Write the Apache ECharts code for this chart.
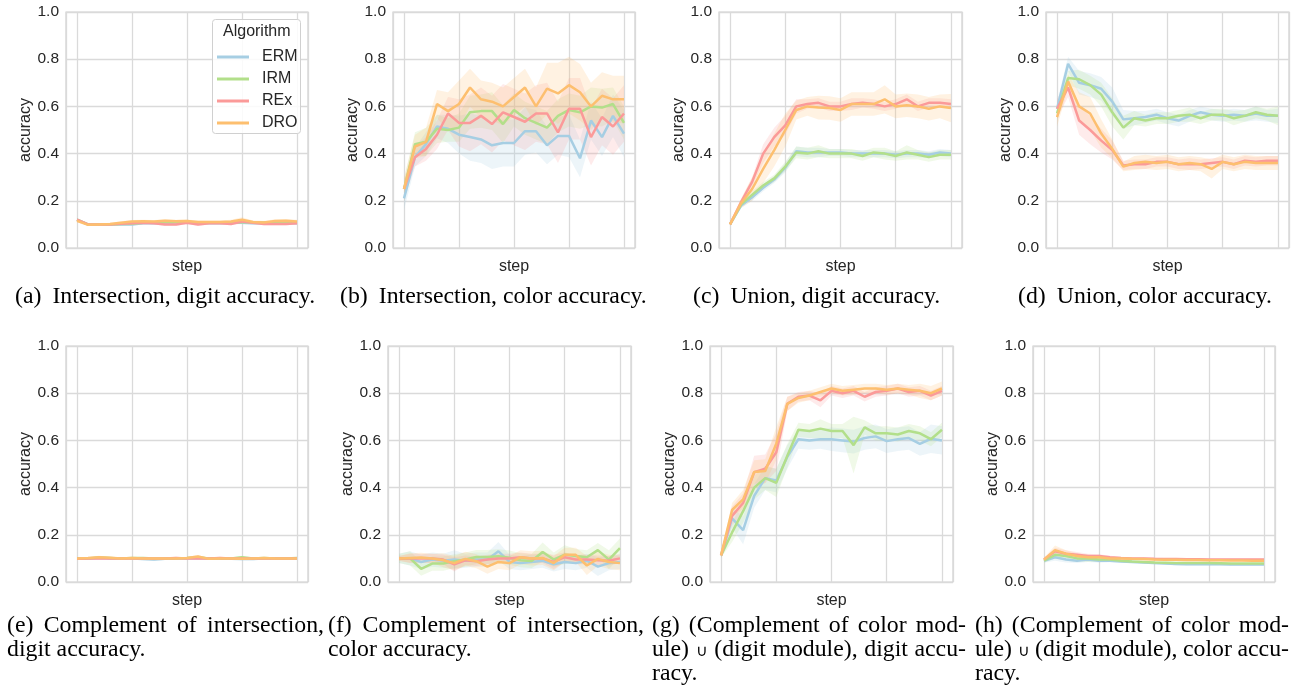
<!DOCTYPE html>
<html>
<head>
<meta charset="utf-8">
<script src="https://cdn.jsdelivr.net/npm/echarts@6/dist/echarts.min.js"></script>
<style>
  html, body { margin: 0; padding: 0; background: #fff; }
  #chart { width: 1295px; height: 689px; }
</style>
</head>
<body>
<div id="chart"></div>
<script>
const algorithms = ['ERM', 'IRM', 'REx', 'DRO'];
const colors = ['#a6cee3', '#b2df8a', '#fb9a99', '#fdbf6f'];
const steps = [0, 1, 2, 3, 4, 5, 6, 7, 8, 9, 10, 11, 12, 13, 14, 15, 16, 17, 18, 19, 20];
const yTicks = [0, 0.2, 0.4, 0.6, 0.8, 1.0];

// (a) intersection, digit accuracy
const aERM = [0.12,0.10,0.10,0.10,0.10,0.10,0.105,0.105,0.105,0.108,0.108,0.105,0.105,0.105,0.107,0.107,0.105,0.105,0.107,0.107,0.105];
const aIRM = [0.12,0.10,0.10,0.10,0.102,0.103,0.107,0.107,0.11,0.11,0.108,0.107,0.107,0.108,0.108,0.11,0.108,0.108,0.11,0.11,0.108];
const aREx = [0.12,0.10,0.10,0.10,0.103,0.105,0.107,0.105,0.10,0.10,0.107,0.10,0.105,0.105,0.102,0.112,0.107,0.102,0.102,0.102,0.105];
const aDRO = [0.115,0.098,0.10,0.102,0.107,0.112,0.113,0.112,0.115,0.113,0.114,0.11,0.11,0.11,0.112,0.12,0.11,0.108,0.114,0.115,0.112];
const aERMci = [0.006,0.004,0.004,0.004,0.005,0.005,0.005,0.005,0.005,0.005,0.005,0.005,0.005,0.005,0.005,0.006,0.005,0.005,0.005,0.005,0.005];
const aIRMci = [0.006,0.004,0.004,0.004,0.005,0.005,0.005,0.005,0.005,0.005,0.005,0.005,0.005,0.005,0.005,0.006,0.005,0.005,0.005,0.005,0.005];
const aRExci = [0.006,0.004,0.004,0.004,0.005,0.006,0.006,0.006,0.006,0.006,0.006,0.006,0.006,0.006,0.006,0.008,0.006,0.006,0.006,0.006,0.006];
const aDROci = [0.006,0.004,0.004,0.005,0.006,0.007,0.007,0.007,0.007,0.007,0.007,0.007,0.007,0.007,0.008,0.01,0.007,0.007,0.008,0.008,0.008];

// (b) intersection, color accuracy
const bERM = [0.21,0.385,0.44,0.515,0.505,0.48,0.47,0.46,0.435,0.445,0.445,0.495,0.495,0.435,0.475,0.475,0.38,0.54,0.47,0.56,0.485];
const bIRM = [0.25,0.44,0.45,0.505,0.50,0.51,0.575,0.58,0.58,0.525,0.585,0.55,0.53,0.51,0.56,0.585,0.575,0.60,0.595,0.61,0.53];
const bREx = [0.25,0.385,0.42,0.48,0.57,0.53,0.53,0.56,0.525,0.575,0.555,0.535,0.57,0.57,0.49,0.59,0.59,0.47,0.555,0.515,0.57];
const bDRO = [0.25,0.43,0.45,0.61,0.58,0.61,0.68,0.63,0.62,0.60,0.64,0.68,0.60,0.675,0.655,0.69,0.66,0.60,0.645,0.63,0.63];
const bERMci = [0.05,0.04,0.05,0.05,0.06,0.08,0.1,0.1,0.1,0.1,0.1,0.1,0.09,0.08,0.08,0.09,0.08,0.08,0.08,0.09,0.1];
const bIRMci = [0.04,0.05,0.06,0.06,0.05,0.06,0.07,0.07,0.08,0.08,0.07,0.07,0.07,0.07,0.07,0.07,0.07,0.08,0.08,0.07,0.07];
const bRExci = [0.04,0.04,0.05,0.06,0.07,0.1,0.12,0.12,0.12,0.12,0.12,0.12,0.12,0.13,0.13,0.13,0.13,0.12,0.12,0.12,0.12];
const bDROci = [0.05,0.05,0.06,0.06,0.08,0.1,0.08,0.08,0.08,0.08,0.08,0.08,0.08,0.11,0.13,0.12,0.12,0.1,0.1,0.1,0.1];

// (c) union, digit accuracy
const cERM = [0.10,0.18,0.215,0.255,0.29,0.34,0.41,0.405,0.405,0.405,0.405,0.40,0.40,0.40,0.40,0.395,0.40,0.40,0.395,0.405,0.40];
const cIRM = [0.10,0.185,0.225,0.265,0.295,0.345,0.405,0.40,0.41,0.40,0.40,0.40,0.39,0.405,0.40,0.39,0.405,0.395,0.385,0.395,0.395];
const cREx = [0.10,0.195,0.28,0.40,0.47,0.52,0.60,0.61,0.615,0.60,0.60,0.61,0.615,0.61,0.60,0.61,0.63,0.60,0.615,0.615,0.61];
const cDRO = [0.10,0.19,0.25,0.335,0.415,0.50,0.585,0.60,0.595,0.593,0.585,0.61,0.61,0.61,0.63,0.60,0.605,0.60,0.59,0.60,0.593];
const cERMci = [0.005,0.01,0.015,0.015,0.015,0.02,0.02,0.02,0.02,0.015,0.015,0.015,0.015,0.015,0.015,0.015,0.015,0.015,0.015,0.015,0.015];
const cIRMci = [0.005,0.01,0.015,0.015,0.015,0.02,0.025,0.025,0.025,0.02,0.02,0.02,0.02,0.02,0.025,0.02,0.03,0.02,0.02,0.02,0.02];
const cRExci = [0.005,0.01,0.02,0.04,0.04,0.04,0.03,0.02,0.02,0.02,0.02,0.025,0.02,0.02,0.02,0.02,0.02,0.02,0.02,0.02,0.02];
const cDROci = [0.005,0.02,0.05,0.06,0.07,0.07,0.04,0.04,0.05,0.05,0.05,0.05,0.05,0.05,0.06,0.05,0.05,0.05,0.05,0.05,0.06];

// (d) union, color accuracy
const dERM = [0.59,0.78,0.70,0.69,0.675,0.62,0.545,0.55,0.555,0.565,0.55,0.54,0.56,0.575,0.565,0.56,0.565,0.56,0.57,0.56,0.56];
const dIRM = [0.57,0.72,0.715,0.69,0.65,0.575,0.51,0.55,0.54,0.55,0.55,0.56,0.565,0.55,0.565,0.565,0.55,0.56,0.575,0.565,0.56];
const dREx = [0.59,0.68,0.54,0.50,0.455,0.415,0.35,0.355,0.355,0.365,0.365,0.355,0.355,0.355,0.36,0.365,0.355,0.37,0.365,0.37,0.37];
const dDRO = [0.555,0.705,0.60,0.57,0.485,0.42,0.345,0.36,0.365,0.36,0.365,0.355,0.36,0.355,0.335,0.365,0.355,0.365,0.36,0.36,0.36];
const dERMci = [0.03,0.03,0.05,0.05,0.05,0.06,0.04,0.03,0.025,0.025,0.025,0.025,0.025,0.025,0.025,0.025,0.025,0.025,0.03,0.025,0.03];
const dIRMci = [0.03,0.03,0.04,0.04,0.05,0.06,0.05,0.03,0.025,0.025,0.025,0.025,0.03,0.025,0.025,0.025,0.03,0.025,0.025,0.025,0.04];
const dRExci = [0.04,0.04,0.06,0.06,0.05,0.04,0.02,0.02,0.02,0.02,0.02,0.02,0.025,0.02,0.02,0.02,0.02,0.02,0.02,0.02,0.02];
const dDROci = [0.04,0.03,0.06,0.07,0.06,0.04,0.02,0.03,0.03,0.03,0.03,0.03,0.03,0.03,0.04,0.03,0.03,0.03,0.03,0.03,0.03];

// (e) complement of intersection, digit accuracy
const eERM = [0.10,0.10,0.102,0.10,0.10,0.10,0.097,0.095,0.098,0.10,0.10,0.10,0.10,0.10,0.098,0.097,0.097,0.10,0.10,0.10,0.098];
const eIRM = [0.10,0.10,0.104,0.102,0.10,0.102,0.102,0.10,0.10,0.10,0.102,0.105,0.10,0.10,0.10,0.105,0.10,0.102,0.10,0.10,0.102];
const eREx = [0.098,0.10,0.10,0.10,0.10,0.10,0.10,0.10,0.10,0.102,0.10,0.10,0.10,0.102,0.10,0.10,0.10,0.10,0.10,0.10,0.10];
const eDRO = [0.10,0.102,0.105,0.103,0.10,0.102,0.10,0.10,0.10,0.10,0.102,0.108,0.098,0.10,0.10,0.098,0.10,0.102,0.10,0.10,0.10];
const eERMci = [0.004,0.004,0.005,0.004,0.004,0.004,0.005,0.005,0.005,0.004,0.004,0.004,0.004,0.004,0.005,0.005,0.005,0.004,0.004,0.004,0.004];
const eIRMci = [0.004,0.004,0.005,0.004,0.004,0.004,0.004,0.004,0.004,0.004,0.004,0.005,0.004,0.004,0.004,0.005,0.004,0.004,0.004,0.004,0.004];
const eRExci = [0.004,0.004,0.004,0.004,0.004,0.004,0.004,0.004,0.004,0.005,0.004,0.004,0.004,0.005,0.004,0.004,0.004,0.004,0.004,0.004,0.004];
const eDROci = [0.004,0.004,0.006,0.004,0.004,0.004,0.004,0.004,0.004,0.004,0.005,0.006,0.004,0.004,0.004,0.004,0.004,0.004,0.004,0.004,0.004];

// (f) complement of intersection, color accuracy
const fERM = [0.10,0.10,0.085,0.095,0.09,0.095,0.09,0.095,0.095,0.13,0.085,0.08,0.085,0.09,0.075,0.085,0.08,0.09,0.065,0.08,0.085];
const fIRM = [0.10,0.10,0.056,0.078,0.078,0.088,0.095,0.106,0.106,0.109,0.103,0.092,0.089,0.127,0.095,0.116,0.11,0.105,0.135,0.095,0.144];
const fREx = [0.10,0.10,0.10,0.10,0.095,0.075,0.092,0.088,0.095,0.10,0.10,0.105,0.10,0.10,0.085,0.105,0.095,0.095,0.092,0.09,0.10];
const fDRO = [0.10,0.102,0.104,0.10,0.092,0.08,0.098,0.088,0.065,0.085,0.08,0.105,0.10,0.102,0.08,0.115,0.115,0.07,0.098,0.085,0.08];
const fERMci = [0.02,0.03,0.03,0.03,0.03,0.04,0.03,0.03,0.03,0.04,0.03,0.03,0.03,0.03,0.03,0.03,0.03,0.03,0.04,0.03,0.03];
const fIRMci = [0.02,0.03,0.03,0.03,0.03,0.03,0.03,0.03,0.03,0.03,0.03,0.03,0.03,0.04,0.03,0.04,0.03,0.03,0.03,0.04,0.04];
const fRExci = [0.01,0.02,0.02,0.02,0.02,0.03,0.02,0.02,0.02,0.02,0.02,0.02,0.02,0.02,0.03,0.02,0.02,0.02,0.02,0.02,0.02];
const fDROci = [0.01,0.02,0.02,0.02,0.03,0.03,0.03,0.03,0.03,0.03,0.03,0.03,0.03,0.03,0.03,0.03,0.03,0.04,0.03,0.03,0.03];

// (g) (complement of color module) ∪ (digit module), digit accuracy
const gERM = [0.113,0.27,0.22,0.365,0.44,0.43,0.53,0.605,0.60,0.605,0.605,0.60,0.595,0.61,0.617,0.597,0.605,0.61,0.585,0.607,0.60];
const gIRM = [0.113,0.21,0.30,0.40,0.44,0.42,0.535,0.645,0.64,0.65,0.64,0.64,0.58,0.655,0.63,0.63,0.625,0.64,0.63,0.605,0.645];
const gREx = [0.113,0.28,0.335,0.465,0.48,0.55,0.755,0.785,0.79,0.77,0.81,0.80,0.81,0.785,0.805,0.81,0.82,0.805,0.81,0.79,0.81];
const gDRO = [0.113,0.305,0.35,0.466,0.47,0.586,0.755,0.78,0.79,0.805,0.82,0.81,0.815,0.82,0.82,0.815,0.82,0.815,0.81,0.80,0.82];
const gERMci = [0.01,0.04,0.06,0.05,0.05,0.05,0.05,0.04,0.04,0.04,0.05,0.05,0.05,0.05,0.05,0.05,0.05,0.05,0.05,0.06,0.06];
const gIRMci = [0.01,0.04,0.05,0.05,0.05,0.06,0.05,0.03,0.03,0.04,0.03,0.03,0.12,0.03,0.03,0.03,0.03,0.03,0.03,0.03,0.03];
const gRExci = [0.01,0.04,0.04,0.07,0.06,0.08,0.03,0.02,0.02,0.03,0.02,0.02,0.02,0.02,0.02,0.02,0.02,0.02,0.02,0.02,0.02];
const gDROci = [0.01,0.03,0.04,0.05,0.05,0.07,0.03,0.02,0.02,0.02,0.02,0.02,0.02,0.02,0.02,0.02,0.02,0.02,0.03,0.03,0.03];

// (h) (complement of color module) ∪ (digit module), color accuracy
const hERM = [0.09,0.105,0.095,0.09,0.095,0.09,0.09,0.087,0.085,0.083,0.08,0.078,0.076,0.075,0.075,0.075,0.075,0.074,0.074,0.074,0.074];
const hIRM = [0.09,0.115,0.11,0.10,0.10,0.095,0.095,0.09,0.087,0.085,0.083,0.082,0.08,0.08,0.08,0.08,0.079,0.078,0.078,0.078,0.078];
const hREx = [0.095,0.13,0.12,0.115,0.11,0.11,0.105,0.102,0.10,0.10,0.098,0.097,0.097,0.096,0.096,0.095,0.095,0.095,0.095,0.095,0.095];
const hDRO = [0.095,0.135,0.12,0.11,0.105,0.105,0.10,0.10,0.098,0.097,0.095,0.094,0.094,0.093,0.093,0.092,0.092,0.091,0.091,0.09,0.09];
const hERMci = [0.008,0.015,0.012,0.01,0.01,0.008,0.006,0.005,0.005,0.005,0.005,0.005,0.005,0.005,0.005,0.005,0.005,0.005,0.005,0.005,0.005];
const hIRMci = [0.008,0.015,0.012,0.012,0.015,0.01,0.008,0.006,0.005,0.005,0.005,0.005,0.005,0.005,0.005,0.005,0.005,0.005,0.005,0.005,0.005];
const hRExci = [0.008,0.015,0.015,0.012,0.01,0.008,0.006,0.005,0.005,0.005,0.005,0.005,0.005,0.005,0.005,0.005,0.005,0.005,0.005,0.005,0.005];
const hDROci = [0.008,0.02,0.015,0.012,0.01,0.008,0.006,0.005,0.005,0.005,0.005,0.005,0.005,0.005,0.005,0.005,0.005,0.005,0.005,0.005,0.005];

// captions: single line ones [label, text], multi line ones are lists of lines
const capTop = [
  ['(a)', 'Intersection, digit accuracy.'],
  ['(b)', 'Intersection, color accuracy.'],
  ['(c)', 'Union, digit accuracy.'],
  ['(d)', 'Union, color accuracy.']
];
const capBottom = [
  ['(e) Complement of intersection,', 'digit accuracy.'],
  ['(f) Complement of intersection,', 'color accuracy.'],
  ['(g) (Complement of color mod-', 'ule) \u222A (digit module), digit accu-', 'racy.'],
  ['(h) (Complement of color mod-', 'ule) \u222A (digit module), color accu-', 'racy.']
];

const panels = [
  { means: [aERM, aIRM, aREx, aDRO], cis: [aERMci, aIRMci, aRExci, aDROci] },
  { means: [bERM, bIRM, bREx, bDRO], cis: [bERMci, bIRMci, bRExci, bDROci] },
  { means: [cERM, cIRM, cREx, cDRO], cis: [cERMci, cIRMci, cRExci, cDROci] },
  { means: [dERM, dIRM, dREx, dDRO], cis: [dERMci, dIRMci, dRExci, dDROci] },
  { means: [eERM, eIRM, eREx, eDRO], cis: [eERMci, eIRMci, eRExci, eDROci] },
  { means: [fERM, fIRM, fREx, fDRO], cis: [fERMci, fIRMci, fRExci, fDROci] },
  { means: [gERM, gIRM, gREx, gDRO], cis: [gERMci, gIRMci, gRExci, gDROci] },
  { means: [hERM, hIRM, hREx, hDRO], cis: [hERMci, hIRMci, hRExci, hDROci] }
];

// plot boxes in pixels
const boxes = [
  [66, 12, 242], [393, 12, 242], [719, 12, 243], [1046, 12, 243],
  [66, 346, 242], [388, 346, 243], [710, 346, 243], [1033, 346, 242]
];
const plotH = 236;
const ink = '#262626';
const sans = '"Liberation Sans", Arial, sans-serif';
const serif = '"Liberation Serif", "Times New Roman", serif';
const capSize = 23.8;

const chart = echarts.init(document.getElementById('chart'));

// band polygon drawn once per series, through the axis scales
function bandRenderer(color) {
  return function (params, api) {
    if (params.dataIndex !== 0) return null;
    const upper = [], lower = [];
    for (let i = 0; i < steps.length; i++) {
      upper.push(api.coord([steps[i], api.value(2, i)]));
      lower.push(api.coord([steps[i], api.value(1, i)]));
    }
    return {
      type: 'polygon', silent: true,
      shape: { points: upper.concat(lower.reverse()) },
      style: { fill: color, opacity: 0.2 }
    };
  };
}

const grids = [], xAxes = [], yAxes = [], series = [];
boxes.forEach((b, p) => {
  grids.push({ left: b[0], top: b[1], width: b[2], height: plotH, show: true,
    borderColor: '#d0d0d0', borderWidth: 1.2, backgroundColor: '#fff' });
  xAxes.push({
    type: 'value', gridIndex: p, min: -1, max: 21,
    name: 'step', nameLocation: 'middle', nameGap: 11,
    nameTextStyle: { fontSize: 16, color: ink, fontFamily: sans },
    axisLine: { show: false }, axisTick: { show: false }, axisLabel: { show: false },
    splitLine: { show: true, lineStyle: { color: '#dadada', width: 1.3 } }
  });
  yAxes.push({
    type: 'value', gridIndex: p, min: yTicks[0], max: yTicks[yTicks.length - 1], interval: 0.2,
    name: 'accuracy', nameLocation: 'middle', nameGap: 31,
    nameTextStyle: { fontSize: 16, color: ink, fontFamily: sans },
    axisLine: { show: false }, axisTick: { show: false },
    axisLabel: { fontSize: 15.5, color: ink, fontFamily: sans, margin: 7,
      formatter: v => v.toFixed(1) },
    splitLine: { show: true, lineStyle: { color: '#dadada', width: 1.3 } }
  });
  const pan = panels[p];
  // confidence bands first
  algorithms.forEach((alg, k) => {
    const m = pan.means[k], ci = pan.cis[k];
    series.push({
      name: alg + ' ci', type: 'custom', xAxisIndex: p, yAxisIndex: p,
      data: steps.map((s, i) => [s, m[i] - ci[i], m[i] + ci[i]]),
      encode: { x: 0, y: [1, 2] },
      renderItem: bandRenderer(colors[k]), silent: true, z: 1, clip: true
    });
  });
  algorithms.forEach((alg, k) => {
    const m = pan.means[k];
    series.push({
      name: alg, type: 'line', xAxisIndex: p, yAxisIndex: p,
      data: steps.map((s, i) => [s, m[i]]),
      symbol: 'none', color: colors[k],
      lineStyle: { color: colors[k], width: 2.5 }, z: 3 + k
    });
  });
});

// caption layout with measured word widths
const ctx = document.createElement('canvas').getContext('2d');
const tw = (s, size) => { ctx.font = size + 'px ' + serif; return ctx.measureText(s).width; };
const wordSize = w => (w === '\u222A' ? 16 : capSize);
const graphics = [];
function textEl(s, x, y) {
  const size = wordSize(s);
  return { type: 'text', left: x, top: y + (size < capSize ? 6 : 0), silent: true,
    style: { text: s, font: size + 'px ' + serif, fill: '#000' } };
}
const topStarts = [15, 340, 693, 1018];
capTop.forEach((c, i) => {
  const y = 285;
  graphics.push(textEl(c[0], topStarts[i], y));
  graphics.push(textEl(c[1], topStarts[i] + tw(c[0], capSize) + 11, y));
});
const botSpans = [[7, 324], [328, 644], [652, 966], [975, 1289]];
const lineTops = [614, 638, 662];
capBottom.forEach((lines, i) => {
  const [x0, x1] = botSpans[i];
  lines.forEach((line, li) => {
    const last = li === lines.length - 1;
    const words = line.split(' ');
    if (last || words.length < 2) {
      graphics.push(textEl(line, x0, lineTops[li]));
      return;
    }
    const ws = words.map(w => tw(w, wordSize(w)));
    const gap = (x1 - x0 - ws.reduce((a, b) => a + b, 0)) / (words.length - 1);
    let x = x0;
    words.forEach((w, wi) => {
      graphics.push(textEl(w, x, lineTops[li]));
      x += ws[wi] + gap;
    });
  });
});

// legend frame and title
graphics.push({ type: 'rect', left: 212, top: 19, z: 10, silent: true,
  shape: { width: 88, height: 114, r: 3 },
  style: { fill: 'rgba(255,255,255,0.85)', stroke: '#d0d0d0', lineWidth: 1 } });
graphics.push({ type: 'text', left: 223, top: 24, z: 11, silent: true,
  style: { text: 'Algorithm', font: '16px ' + sans, fill: ink } });

chart.setOption({
  animation: false,
  backgroundColor: '#fff',
  grid: grids,
  xAxis: xAxes,
  yAxis: yAxes,
  series: series,
  legend: {
    data: algorithms, orient: 'vertical', left: 212, top: 44, z: 12,
    icon: 'rect', itemWidth: 32, itemHeight: 3, itemGap: 6,
    selectedMode: false,
    textStyle: { fontSize: 16, color: ink, fontFamily: sans, padding: [0, 0, 0, 8] }
  },
  graphic: graphics
});
</script>
</body>
</html>
